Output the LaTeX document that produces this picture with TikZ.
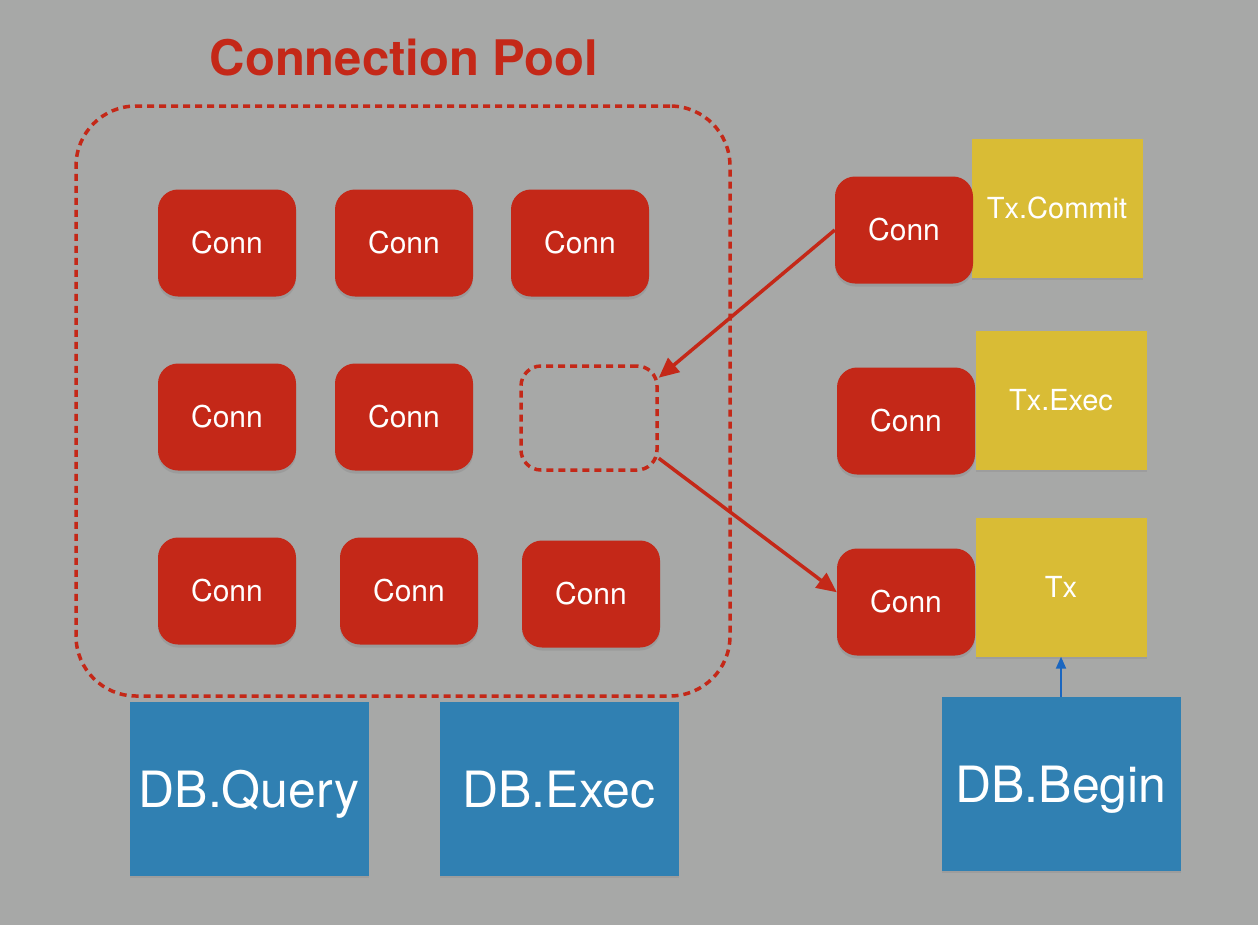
\documentclass[tikz,border=0pt]{standalone}
\usepackage{fontspec}
\setmainfont{TeX Gyre Heros}
\usetikzlibrary{arrows.meta,shadows}

\definecolor{bg}{HTML}{A7A8A7}
\definecolor{connred}{HTML}{C42818}
\definecolor{txyellow}{HTML}{D9BC35}
\definecolor{dbblue}{HTML}{3080B2}
\definecolor{linkblue}{HTML}{1A66C0}

\begin{document}
\begin{tikzpicture}[x=1pt, y=-1pt,
  conn/.style={rectangle, rounded corners=20pt, fill=connred, text=white,
    minimum width=138pt, minimum height=107pt, font=\fontsize{30}{36}\selectfont,
    drop shadow={shadow xshift=0pt, shadow yshift=-3pt, opacity=0.3}},
  txbox/.style={rectangle, fill=txyellow, text=white,
    minimum width=171pt, minimum height=139pt, font=\fontsize{29}{34}\selectfont,
    drop shadow={shadow xshift=0pt, shadow yshift=-2pt, opacity=0.25}},
  dbbox/.style={rectangle, fill=dbblue, text=white, text depth=0pt,
    minimum width=239pt, minimum height=174pt, font=\fontsize{50}{60}\selectfont,
    drop shadow={shadow xshift=0pt, shadow yshift=-2pt, opacity=0.25}},
  poolbox/.style={rectangle, draw=connred, line width=3.5pt, dash pattern=on 7pt off 5pt},
  move/.style={draw=connred, line width=3.5pt, -{Triangle[length=20pt, width=18pt]}}]
  \useasboundingbox (0, 0) rectangle (1258, 924);
  \fill[bg] (-5, -5) rectangle (1263, 929);
  \draw (404, 58)    node[text=connred, font=\bfseries\fontsize{49}{58}\selectfont] (title) {Connection Pool};
  \draw (403, 401)   node[poolbox, rounded corners=60pt, minimum width=654pt, minimum height=590pt] (pool) {};
  \draw (227, 243)   node[conn] (p11) {Conn};
  \draw (404, 243)   node[conn] (p12) {Conn};
  \draw (580, 243)   node[conn] (p13) {Conn};
  \draw (227, 417)   node[conn] (p21) {Conn};
  \draw (404, 417)   node[conn] (p22) {Conn};
  \draw (589, 418)   node[poolbox, rounded corners=20pt, minimum width=136pt, minimum height=104pt] (slot) {};
  \draw (227, 591)   node[conn] (p31) {Conn};
  \draw (409, 591)   node[conn] (p32) {Conn};
  \draw (591, 594)   node[conn] (p33) {Conn};
  \draw (1057, 208)  node[txbox] (commit) {Tx.Commit};
  \draw (1061, 400)  node[txbox] (txexec) {Tx.Exec};
  \draw (1061, 587)  node[txbox] (tx) {Tx};
  \draw (904, 230)   node[conn] (c1) {Conn};
  \draw (906, 421)   node[conn] (c2) {Conn};
  \draw (906, 602)   node[conn] (c3) {Conn};
  \draw (249, 789)   node[dbbox] (query) {DB.Query};
  \draw (559, 789)   node[dbbox] (dbexec) {DB.Exec};
  \draw (1061, 784)  node[dbbox] (begin) {DB.Begin};
  \draw[move] (c1.west) -- (slot.30);
  \draw[move] (slot.-30) -- (c3.172);
  \draw[draw=linkblue, line width=2pt, -{Triangle[length=12pt, width=10pt]}] (begin.north) -- (tx.south);
\end{tikzpicture}
\end{document}
